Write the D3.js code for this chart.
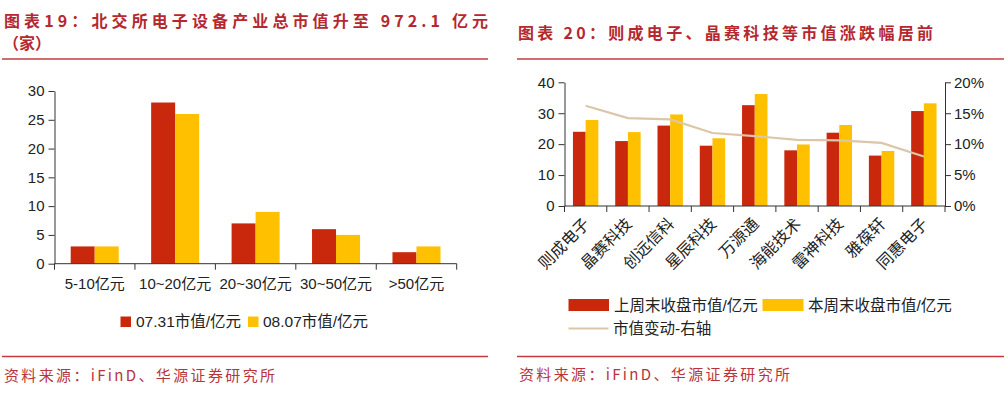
<!DOCTYPE html>
<html>
<head>
<meta charset="utf-8">
<script src="https://cdn.jsdelivr.net/npm/d3@7"></script>
<style>
  body { margin: 0; background: #fff; }
  svg { display: block; }
</style>
</head>
<body>
<script>
// left chart: 北交所电子设备 market value buckets (家)
var leftCats = ["5-10亿元", "10~20亿元", "20~30亿元", "30~50亿元", ">50亿元"];
var leftSeries = ["07.31市值/亿元", "08.07市值/亿元"];
var val0731 = [3, 28, 7, 6, 2];
var val0807 = [3, 26, 9, 5, 3];
var leftTicks = [0, 5, 10, 15, 20, 25, 30];

// right chart: top gainers
var rightCats = ["则成电子", "晶赛科技", "创远信科", "星辰科技", "万源通", "海能技术", "雷神科技", "雅葆轩", "同惠电子"];
var rightSeries = ["上周末收盘市值/亿元", "本周末收盘市值/亿元", "市值变动-右轴"];
var lastWeek = [24.0, 21.0, 26.0, 19.5, 32.6, 18.0, 23.7, 16.3, 30.7];
var thisWeek = [27.8, 23.9, 29.6, 21.9, 36.2, 19.9, 26.2, 17.8, 33.2];
var change = [0.162, 0.142, 0.140, 0.118, 0.113, 0.107, 0.106, 0.102, 0.080];
var rightTicksL = [0, 10, 20, 30, 40];
var rightTicksR = [0, 0.05, 0.10, 0.15, 0.20];

var w = 1008, h = 403;
var red = "#c9280c", yellow = "#ffc000", tan = "#dcc6a8";
var titleRed = "#b5282f", ruleRed = "#c43a40";
var axisCol = "#333", txtCol = "#222";
var latin = "'Liberation Sans', Arial, 'Noto Sans CJK SC', sans-serif";
var cjk = "'Noto Sans CJK SC', 'Liberation Sans', sans-serif";

var svg = d3.select("body").append("svg")
  .attr("width", w)
  .attr("height", h);

// titles, rules and source lines
function header(x, y, str, len) {
  svg.append("text")
    .attr("x", x).attr("y", y)
    .attr("textLength", len).attr("lengthAdjust", "spacing")
    .attr("font-family", cjk).attr("font-weight", 700)
    .attr("font-size", "16px").attr("fill", titleRed)
    .text(str);
}
header(4, 27, "图表19：北交所电子设备产业总市值升至 972.1 亿元", 484);
svg.append("text").attr("x", 3).attr("y", 49)
  .attr("font-family", cjk).attr("font-weight", 700)
  .attr("font-size", "16px").attr("fill", titleRed)
  .text("（家）");
header(518, 39, "图表 20：则成电子、晶赛科技等市值涨跌幅居前", 415);

[[2, 488, 59], [517, 1004, 59], [2, 488, 356.5], [517, 1004, 356.5]].forEach(function(r) {
  svg.append("line")
    .attr("x1", r[0]).attr("x2", r[1]).attr("y1", r[2]).attr("y2", r[2])
    .attr("stroke", ruleRed).attr("stroke-width", 1.6);
});

[[4, 381], [519, 380]].forEach(function(p) {
  svg.append("text")
    .attr("x", p[0]).attr("y", p[1])
    .attr("textLength", 271).attr("lengthAdjust", "spacing")
    .attr("font-family", cjk).attr("font-size", "15px")
    .attr("fill", "#b8343c")
    .text("资料来源：iFinD、华源证券研究所");
});

// ---------- left chart ----------
var lx0 = d3.scaleBand().domain(leftCats).range([54.5, 456.7]);
var lx1 = d3.scaleBand().domain(leftSeries).range([0, lx0.bandwidth()]).paddingOuter(0.675);
var ly = d3.scaleLinear().domain([0, 30]).range([263.7, 91]);

var left = svg.append("g");
var leftVals = [val0731, val0807];
var leftCols = [red, yellow];

leftSeries.forEach(function(s, si) {
  left.selectAll(".lb" + si)
    .data(leftVals[si])
    .enter()
    .append("rect")
    .attr("x", function(d, i) { return lx0(leftCats[i]) + lx1(s); })
    .attr("width", lx1.bandwidth())
    .attr("y", function(d) { return ly(d); })
    .attr("height", function(d) { return ly(0) - ly(d); })
    .attr("fill", leftCols[si]);
});

left.append("g")
  .attr("transform", "translate(54.5,0)")
  .call(d3.axisLeft(ly).tickValues(leftTicks).tickSize(6).tickSizeOuter(0).tickPadding(4));

// x axis: line with ticks on category borders
var lBorders = leftCats.map(function(c) { return lx0(c); }).concat([lx0.range()[1]]);
left.append("line")
  .attr("x1", 54.5).attr("x2", 456.7).attr("y1", ly(0)).attr("y2", ly(0))
  .attr("stroke", axisCol);
left.selectAll(".ltick").data(lBorders).enter().append("line")
  .attr("x1", function(d) { return d; }).attr("x2", function(d) { return d; })
  .attr("y1", ly(0)).attr("y2", ly(0) + 6)
  .attr("stroke", axisCol);
left.selectAll(".lxl").data(leftCats).enter().append("text")
  .attr("x", function(d) { return lx0(d) + lx0.bandwidth() / 2; })
  .attr("y", 289)
  .attr("text-anchor", "middle")
  .attr("font-family", latin).attr("font-size", "15px").attr("fill", txtCol)
  .text(function(d) { return d; });

// left legend
var lleg = [[120.5, 136, red], [248, 263, yellow]];
leftSeries.forEach(function(s, i) {
  svg.append("rect").attr("x", lleg[i][0]).attr("y", 316.5)
    .attr("width", 10.5).attr("height", 10.5).attr("fill", lleg[i][2]);
  svg.append("text").attr("x", lleg[i][1]).attr("y", 327)
    .attr("font-family", latin).attr("font-size", "15.5px").attr("fill", txtCol)
    .text(s);
});

// ---------- right chart ----------
var rx0 = d3.scaleBand().domain(rightCats).range([564.5, 945]);
var rx1 = d3.scaleBand().domain(["a", "b"]).range([0, rx0.bandwidth()]).paddingOuter(0.665);
var ryL = d3.scaleLinear().domain([0, 40]).range([206, 82.3]);
var ryR = d3.scaleLinear().domain([0, 0.2]).range([206, 82.3]);

var right = svg.append("g");
[[lastWeek, "a", red], [thisWeek, "b", yellow]].forEach(function(s, si) {
  right.selectAll(".rb" + si)
    .data(s[0])
    .enter()
    .append("rect")
    .attr("x", function(d, i) { return rx0(rightCats[i]) + rx1(s[1]); })
    .attr("width", rx1.bandwidth())
    .attr("y", function(d) { return ryL(d); })
    .attr("height", function(d) { return ryL(0) - ryL(d); })
    .attr("fill", s[2]);
});

var line = d3.line()
  .x(function(d, i) { return rx0(rightCats[i]) + rx0.bandwidth() / 2; })
  .y(function(d) { return ryR(d); });
right.append("path")
  .datum(change)
  .attr("d", line)
  .attr("fill", "none")
  .attr("stroke", tan)
  .attr("stroke-width", 2.2);

right.append("g")
  .attr("transform", "translate(564.5,0)")
  .call(d3.axisLeft(ryL).tickValues(rightTicksL).tickSize(6).tickSizeOuter(0).tickPadding(4));
right.append("g")
  .attr("transform", "translate(945,0)")
  .call(d3.axisRight(ryR).tickValues(rightTicksR).tickSize(6).tickSizeOuter(0).tickPadding(3)
    .tickFormat(d3.format(".0%")));

var rBorders = rightCats.map(function(c) { return rx0(c); }).concat([rx0.range()[1]]);
right.append("line")
  .attr("x1", 564.5).attr("x2", 945).attr("y1", ryL(0)).attr("y2", ryL(0))
  .attr("stroke", axisCol);
right.selectAll(".rtick").data(rBorders).enter().append("line")
  .attr("x1", function(d) { return d; }).attr("x2", function(d) { return d; })
  .attr("y1", ryL(0)).attr("y2", ryL(0) + 6)
  .attr("stroke", axisCol);
right.selectAll(".rxl").data(rightCats).enter().append("text")
  .attr("transform", function(d) {
    return "translate(" + (rx0(d) + rx0.bandwidth() / 2 + 1) + "," + 221 + ") rotate(-45)";
  })
  .attr("text-anchor", "end")
  .attr("dy", "0.35em")
  .attr("font-family", cjk).attr("font-size", "16px").attr("fill", txtCol)
  .text(function(d) { return d; });

// right legend
svg.append("rect").attr("x", 568.5).attr("y", 299).attr("width", 40.5).attr("height", 12).attr("fill", red);
svg.append("text").attr("x", 614).attr("y", 311)
  .attr("font-family", latin).attr("font-size", "15.5px").attr("fill", txtCol).text(rightSeries[0]);
svg.append("rect").attr("x", 762.5).attr("y", 299).attr("width", 41).attr("height", 12).attr("fill", yellow);
svg.append("text").attr("x", 808).attr("y", 311)
  .attr("font-family", latin).attr("font-size", "15.5px").attr("fill", txtCol).text(rightSeries[1]);
svg.append("line").attr("x1", 568.5).attr("x2", 608.5).attr("y1", 328.5).attr("y2", 328.5)
  .attr("stroke", tan).attr("stroke-width", 2);
svg.append("text").attr("x", 613).attr("y", 334)
  .attr("font-family", latin).attr("font-size", "15.5px").attr("fill", txtCol).text(rightSeries[2]);

// shared axis styling
svg.selectAll(".domain").attr("stroke", axisCol);
svg.selectAll(".tick line").attr("stroke", axisCol);
svg.selectAll(".tick text")
  .attr("font-family", latin).attr("font-size", "15px").attr("fill", txtCol);
</script>
</body>
</html>
